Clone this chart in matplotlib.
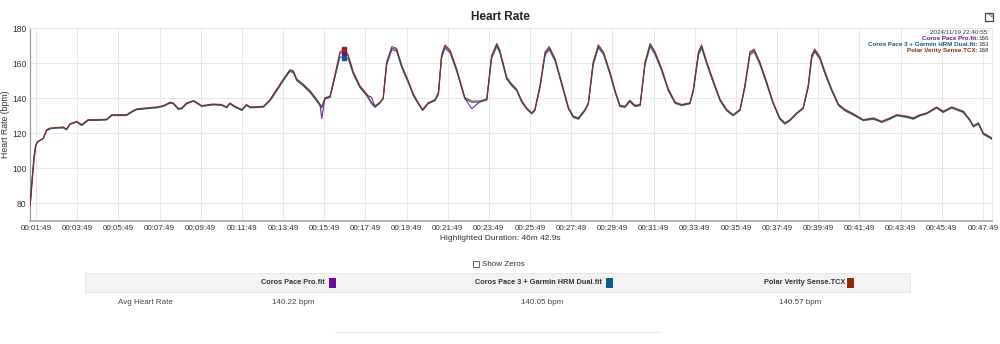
import matplotlib
matplotlib.use("Agg")
import matplotlib.pyplot as plt
from matplotlib.patches import Rectangle

plt.rcParams['font.family'] = ['Liberation Sans', 'DejaVu Sans']

# ---- data ----
time_s = [92, 97, 103, 108, 113, 121, 130, 140, 150, 169, 189, 198, 208, 228, 242, 261, 286, 315,
          330, 373, 388, 402, 432, 461, 480, 500, 509, 524, 534, 548, 568, 577, 592, 626, 650,
          665, 674, 689, 709, 723, 733, 772, 791, 811, 830, 849, 859, 869, 888, 908, 927, 937,
          942, 951, 966, 980, 995, 1008, 1019, 1034, 1053, 1073, 1087, 1097, 1112, 1121, 1131,
          1146, 1160, 1175, 1194, 1209, 1223, 1236, 1252, 1272, 1282, 1291, 1301, 1316, 1335,
          1359, 1379, 1403, 1423, 1437, 1452, 1461, 1481, 1496, 1510, 1525, 1539, 1554, 1563,
          1578, 1593, 1605, 1622, 1641, 1661, 1675, 1690, 1709, 1719, 1733, 1748, 1763, 1782,
          1797, 1811, 1826, 1840, 1855, 1870, 1884, 1899, 1913, 1933, 1952, 1972, 1991, 2015,
          2025, 2040, 2049, 2064, 2083, 2103, 2122, 2141, 2161, 2175, 2190, 2202, 2219, 2239,
          2258, 2277, 2292, 2307, 2326, 2345, 2360, 2370, 2379, 2394, 2409, 2428, 2448, 2467,
          2491, 2520, 2550, 2574, 2598, 2618, 2647, 2666, 2686, 2705, 2734, 2753, 2778, 2812,
          2831, 2841, 2856, 2870, 2895]

hr_coros_pro = [79, 92, 106, 113, 115, 116, 117, 121.7, 122.7, 123, 123.3, 122, 125.2, 126.5, 124.6,
                127.5, 127.5, 127.8, 130.3, 130.3, 132.2, 133.6, 134.2, 134.7, 135.5, 137.4, 137,
                133.8, 134.2, 137, 138.4, 137.4, 135.5, 136.4, 136.1, 134.7, 137, 135.1, 133.2,
                136.1, 134.7, 135.1, 138.9, 144.7, 150.4, 155.7, 155.1, 150.4, 147.5, 143.7, 138.9,
                136.1, 128.4, 139.9, 140.8, 152.3, 165.7, 166, 163.8, 154.2, 146.6, 141.8, 140.5,
                135.1, 137.4, 139.9, 159.9, 168.5, 167.6, 158, 149.4, 141.8, 137, 133.2, 137, 138.9,
                142.8, 163.8, 169.5, 166.6, 156.1, 139.9, 134, 138, 139.3, 163.8, 170.4, 166.6,
                151.3, 147.5, 144.7, 138, 134.2, 131.3, 133.2, 146.6, 165.7, 168.5, 161.9, 148.5,
                134.2, 129.4, 128.4, 133.2, 137, 159.9, 169.5, 165.7, 154.2, 143.7, 135.5, 135.1,
                138.4, 135.5, 136.1, 159.9, 170.4, 165.7, 156.1, 144.7, 137.4, 136.1, 137, 144.7,
                165.7, 169.5, 160, 149.4, 138.9, 133.2, 130.3, 133.2, 146.6, 165.7, 167.2, 159.9,
                148.5, 137, 128.4, 125.6, 127.5, 131.3, 134.2, 147, 163.8, 167.2, 162.8, 154.2,
                144.7, 136.1, 133.2, 130.8, 127.5, 128.4, 126.5, 128.4, 130.3, 129.4, 128.4, 130.3,
                131.3, 134.7, 132.2, 134.7, 132.2, 127.5, 124, 125.6, 119.8, 117]

hr_coros_garmin = [80, 93, 107, 113, 115, 116, 117, 121.5, 122.5, 123, 123, 122, 125, 126.5, 124.4,
                   127.3, 127.3, 127.6, 130.1, 130.1, 132, 133.4, 134, 134.5, 135.3, 137.2, 136.8,
                   133.6, 134, 136.8, 138.2, 137.2, 135.3, 136.2, 135.9, 134.5, 136.8, 134.9, 133,
                   135.9, 134.5, 134.9, 138.5, 144.2, 150, 155.2, 154.6, 150, 147, 143.2, 138.4,
                   135.6, 134.5, 139.5, 140.4, 151.5, 163.5, 163, 162.5, 153.6, 146, 141.4, 136.8,
                   134.8, 137.2, 139.6, 158.8, 167.5, 166.8, 157.4, 148.8, 141.4, 136.8, 133, 136.8,
                   138.6, 142, 162.5, 168.6, 165.8, 155.4, 139.6, 137.6, 137.8, 139, 162.6, 169.4,
                   165.8, 150.8, 147, 144.2, 137.6, 133.8, 131, 133, 145.6, 164.6, 167.6, 161.2,
                   147.8, 133.8, 129, 128, 132.8, 136.6, 158.8, 168.6, 165, 153.6, 143.2, 135.2,
                   134.8, 138, 135.2, 135.8, 158.8, 169.4, 165, 155.4, 144.2, 137, 135.8, 136.8,
                   143.8, 164.6, 168.6, 159.4, 148.8, 138.4, 132.8, 130, 133, 145.6, 164.6, 166.4,
                   159.2, 147.8, 136.6, 128, 125.2, 127.2, 131, 134, 146, 162.6, 166.4, 162.2,
                   153.6, 144.2, 135.8, 132.8, 130.4, 127.2, 128, 126.2, 128, 130, 129, 128, 130,
                   131, 134.4, 131.8, 134.4, 131.8, 127.2, 123.6, 125.2, 119.4, 116.6]

hr_polar = [79, 90, 104, 112, 115, 116, 117.2, 122, 123, 123.3, 123.6, 122.4, 125.4, 126.8, 125,
            127.8, 127.8, 128, 130.6, 130.6, 132.5, 133.9, 134.5, 135, 135.8, 137.7, 137.3, 134.2,
            134.5, 137.3, 138.7, 137.7, 135.8, 136.7, 136.4, 135, 137.3, 135.4, 133.5, 136.4, 135,
            135.4, 139.2, 145.2, 151, 156.2, 155.6, 151, 148, 144.2, 139.4, 136.5, 135.3, 140.2,
            141.2, 153, 166.4, 168, 164.6, 155, 147.2, 142.4, 137.6, 135.6, 137.8, 140.2, 160.6,
            169.4, 168.4, 158.8, 150, 142.4, 137.6, 133.6, 137.4, 139.2, 143.4, 164.6, 170.4,
            167.4, 156.8, 140.4, 138.4, 138.4, 139.6, 164.4, 171.2, 167.4, 152, 148, 145.2, 138.6,
            134.6, 131.6, 133.6, 147.4, 166.4, 169.4, 162.6, 149.2, 134.8, 129.8, 128.8, 133.6,
            137.4, 160.6, 170.4, 166.4, 155, 144.4, 136, 135.4, 138.8, 136, 136.4, 160.6, 171.2,
            166.6, 156.8, 145.4, 137.8, 136.4, 137.4, 145.4, 166.4, 170.4, 160.8, 150.2, 139.4,
            133.6, 130.6, 133.6, 147.2, 166.4, 168, 160.6, 149.2, 137.4, 128.8, 126, 127.8, 131.6,
            134.6, 147.6, 164.6, 168, 163.6, 155, 145.4, 136.6, 133.6, 131.2, 127.8, 128.8, 126.8,
            128.8, 130.6, 129.8, 128.8, 130.6, 131.6, 135, 132.6, 135, 132.6, 127.8, 124.4, 126,
            120.2, 117.4]

series_names = ["Coros Pace Pro.fit", "Coros Pace 3 + Garmin HRM Dual.fit", "Polar Verity Sense.TCX"]
series_colors = ["#6a0f9c", "#0f5d84", "#8b2a0c"]
avg_hr = ["140.22 bpm", "140.05 bpm", "140.57 bpm"]

hover_time = 1008
hover_values = [166, 163, 168]
hover_stamp = "2024/11/19 22:40:55:"

tick_start = 109
tick_step = 120
n_ticks = 24
y_ticks = [80, 100, 120, 140, 160, 180]


def fmt_hms(s):
    return "%02d:%02d:%02d" % (s // 3600, (s % 3600) // 60, s % 60)


tick_pos = [tick_start + k * tick_step for k in range(n_ticks)]
tick_lab = [fmt_hms(p) for p in tick_pos]

fig = plt.figure(figsize=(10, 3.44), dpi=100)
W, H = 1000.0, 344.0
ax = fig.add_axes([30 / W, 1 - 221 / H, (992 - 30) / W, (221 - 28) / H])

for vals, col in zip([hr_coros_pro, hr_coros_garmin, hr_polar], series_colors):
    ax.plot(time_s, vals, color=col, lw=0.8, alpha=0.9, zorder=3)

# hover markers
for v, col in zip(hover_values, series_colors):
    ax.plot([hover_time], [v], marker='s', ms=2.2, color=col, zorder=5, mec=col)

ax.set_xlim(91.5, 2895.5)
ax.set_ylim(70, 180)
ax.set_xticks(tick_pos)
ax.set_xticklabels(tick_lab, fontsize=5.8, color='#333333')
ax.set_yticks(y_ticks)
ax.set_yticklabels([str(v) for v in y_ticks], fontsize=6.2, color='#333333')
ax.tick_params(axis='x', length=0, pad=3)
ax.tick_params(axis='y', length=0, pad=2.5)
ax.grid(True, color='#e8e8e8', lw=0.7)
ax.set_axisbelow(True)
for side in ['top', 'right']:
    ax.spines[side].set_color('#e8e8e8')
    ax.spines[side].set_linewidth(0.7)
ax.spines['left'].set_color('#999999')
ax.spines['left'].set_linewidth(0.9)
ax.spines['bottom'].set_color('#aaaaaa')
ax.spines['bottom'].set_linewidth(1.2)
ax.set_ylabel("Heart Rate (bpm)", fontsize=6.3, color='#333333')
ax.yaxis.set_label_coords(-19.5 / 962, 0.5)

# title + subtitle
fig.text(0.5, 1 - 17 / H, "Heart Rate", ha='center', va='center', fontsize=8.5,
         fontweight='bold', color='#222222')
fig.text(0.5, 1 - 239 / H, "Highlighted Duration: 46m 42.9s", ha='center', va='center',
         fontsize=6.0, color='#333333')

# icon top right
fig.patches.append(Rectangle((985 / W, 1 - 21 / H), 8 / W, 8 / H, transform=fig.transFigure,
                             fill=False, ec='#444444', lw=0.9))
fig.text(990 / W, 1 - 15 / H, "✎", fontsize=5, ha='center', va='center', color='#444444',
         family=['DejaVu Sans'])

# tooltip text
fig.text(989 / W, 1 - 32 / H, hover_stamp, ha='right', va='center', fontsize=4.5, color='#333333')
for i, (name, v, col) in enumerate(zip(series_names, hover_values, series_colors)):
    yy = 1 - (38.3 + 6 * i) / H
    fig.text(989 / W, yy, str(v), ha='right', va='center', fontsize=4.5, color='#333333')
    fig.text(978 / W, yy, name + ":", ha='right', va='center', fontsize=4.5, color=col,
             fontweight='bold')

# Show Zeros checkbox
fig.patches.append(Rectangle((473 / W, 1 - 267 / H), 6 / W, 6 / H, transform=fig.transFigure,
                             fill=False, ec='#666666', lw=0.7))
fig.text(482 / W, 1 - 264 / H, "Show Zeros", ha='left', va='center', fontsize=5.8, color='#333333')

# table
fig.patches.append(Rectangle((85 / W, 1 - 292 / H), (910 - 85) / W, 19 / H,
                             transform=fig.transFigure, fc='#f3f3f3', ec='#e6e6e6', lw=0.6))
head_text_right = [325, 602, 845]
head_sq_x = [329, 606, 847]
val_x = [293, 542, 800]
for name, col, tx, sx, vx, av in zip(series_names, series_colors, head_text_right, head_sq_x, val_x, avg_hr):
    fig.text(tx / W, 1 - 282.5 / H, name, ha='right', va='center', fontsize=5.3,
             fontweight='bold', color='#333333')
    fig.patches.append(Rectangle((sx / W, 1 - 287.5 / H), 7 / W, 10 / H,
                                 transform=fig.transFigure, fc=col, ec='none'))
    fig.text(vx / W, 1 - 303 / H, av, ha='center', va='center', fontsize=5.8, color='#444444')
fig.text(145 / W, 1 - 303 / H, "Avg Heart Rate", ha='center', va='center', fontsize=5.8,
         color='#444444')
fig.lines.append(plt.Line2D([335 / W, 660 / W], [1 - 332 / H, 1 - 332 / H],
                            transform=fig.transFigure, color='#eeeeee', lw=0.8))

fig.savefig("out.png", dpi=100, facecolor='white')
